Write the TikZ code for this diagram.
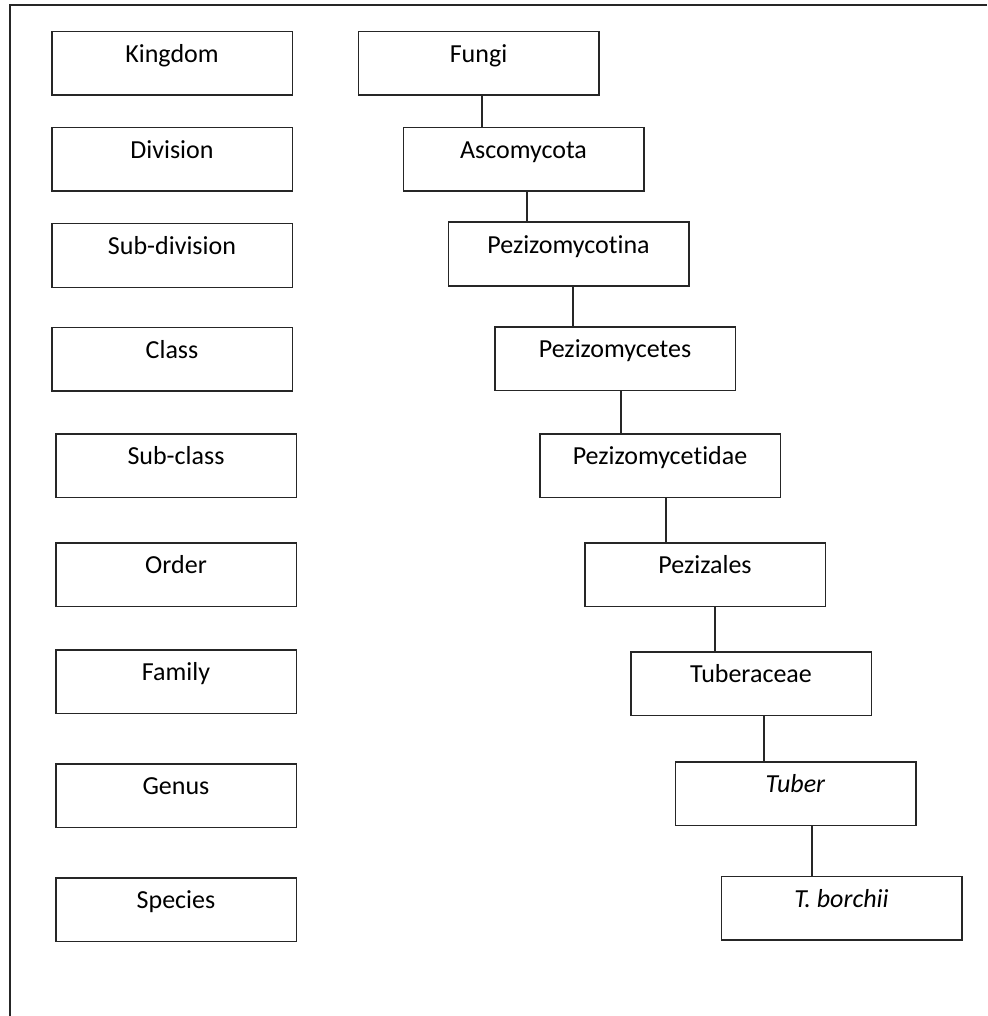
\documentclass[tikz,border=0pt]{standalone}
\usepackage{fontspec}
\setmainfont{Carlito}[Ligatures=NoCommon]
\begin{document}
\begin{tikzpicture}[x=1pt,y=-1pt]
		\tikzstyle{rank}=[draw=black!85,line width=1.5pt,minimum width=240.5pt,inner xsep=0pt,inner ysep=0pt,text height=31pt,text depth=32.5pt,font=\fontsize{26}{30}\selectfont]
		\tikzstyle{link}=[draw=black!85,line width=1.5pt]
		\useasboundingbox (0,0) rectangle (987,1016);
		\draw[link] (987,5) -- (10,5) -- (10,1016);
		% ranks
		\begin{scope}
		\node[rank] (kingdom)  at (172,63.5)  {Kingdom};
		\node[rank] (division) at (172,159.5) {Division};
		\node[rank] (subdiv)   at (172,255.5) {Sub-division};
		\node[rank] (class)    at (172,359)   {Class};
		\node[rank] (subclass) at (176,465.5) {Sub-class};
		\node[rank] (order)    at (176,574.5) {Order};
		\node[rank] (family)   at (176,681.5) {Family};
		\node[rank] (genus)    at (176,795.5) {Genus};
		\node[rank] (species)  at (176,909.5) {Species};
		\end{scope}
		% taxa
		\begin{scope}
		\node[rank] (fungi)    at (478.5,63.5) {Fungi};
		\node[rank] (asco)     at (523.5,159.5) {Ascomycota};
		\node[rank] (pzmtina)  at (568.5,254)  {Pezizomycotina};
		\node[rank] (pzmcetes) at (615,358.5)  {Pezizomycetes};
		\node[rank] (pzmtidae) at (660,465.5)  {Pezizomycetidae};
		\node[rank] (pezizales) at (705,574.5) {Pezizales};
		\node[rank] (tuberac)  at (751,683.5)  {Tuberaceae};
		\node[rank] (tuber)    at (795.5,793.5) {\textit{Tuber}};
		\node[rank] (borchii)  at (841.5,908)  {\textit{T. borchii}};
		\end{scope}
		
		\draw[link] ([xshift=3.5pt]fungi.south)    -- ([xshift=3.5pt]fungi.south |- asco.north);
		\draw[link] ([xshift=3.5pt]asco.south)     -- ([xshift=3.5pt]asco.south |- pzmtina.north);
		\draw[link] ([xshift=4.5pt]pzmtina.south)  -- ([xshift=4.5pt]pzmtina.south |- pzmcetes.north);
		\draw[link] ([xshift=6pt]pzmcetes.south)   -- ([xshift=6pt]pzmcetes.south |- pzmtidae.north);
		\draw[link] ([xshift=6pt]pzmtidae.south)   -- ([xshift=6pt]pzmtidae.south |- pezizales.north);
		\draw[link] ([xshift=10pt]pezizales.south) -- ([xshift=10pt]pezizales.south |- tuberac.north);
		\draw[link] ([xshift=13pt]tuberac.south)   -- ([xshift=13pt]tuberac.south |- tuber.north);
		\draw[link] ([xshift=16.5pt]tuber.south)   -- ([xshift=16.5pt]tuber.south |- borchii.north);
\end{tikzpicture}
\end{document}
